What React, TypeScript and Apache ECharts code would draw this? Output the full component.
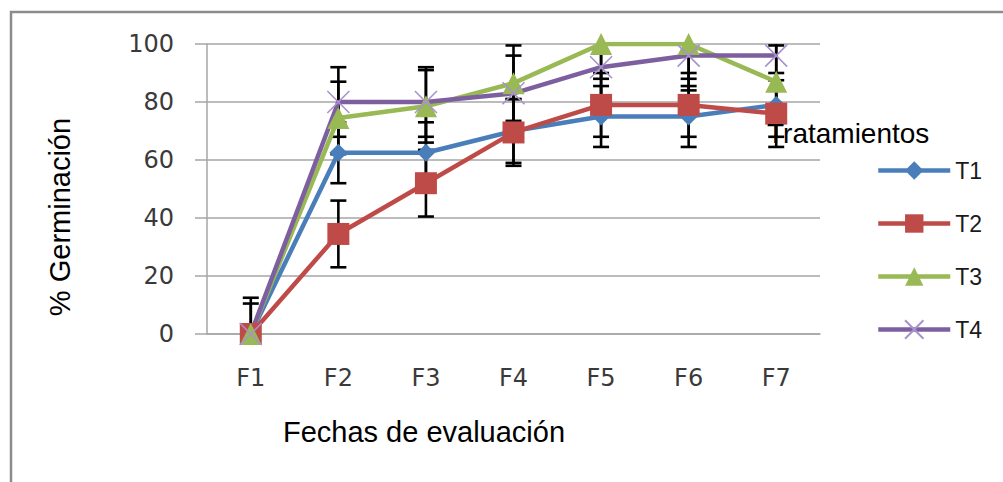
import React, { useEffect, useRef } from "react";
import * as echarts from "echarts";

const categories = ["F1", "F2", "F3", "F4", "F5", "F6", "F7"];
const seriesNames = ["T1", "T2", "T3", "T4"];
const t1 = [0, 62.5, 62.5, 70, 75, 75, 79];
const t2 = [0, 34.5, 52, 69.5, 79, 79, 76];
const t3 = [0, 74.5, 78.5, 86.5, 100, 100, 87];
const t4 = [0, 80, 80, 83, 92, 96, 96];
const errT1 = [12.5, 10.5, 10.5, 11, 10.5, 10.5, 11];
const errT2 = [0, 11.5, 11.5, 11.5, 11, 11, 11.5];
const errT3 = [10.5, 12.5, 12.5, 13, 12, 12, 12.5];
const errT4 = [0, 12, 12, 13, 12, 12, 12];
const yTicks = { min: 0, max: 100, interval: 20 };

const colors = ["#4A7EBB", "#BE4B48", "#98B954", "#7D5FA0"];
const values = [t1, t2, t3, t4];
const errors = [errT1, errT2, errT3, errT4];

const symbols = ["diamond", "rect", "triangle", "path://M0,0L10,10M10,0L0,10"];
const symbolSizes = [18, 22, 22, 22];

export default function App() {
  const ref = useRef<HTMLDivElement>(null);
  useEffect(() => {
    if (!ref.current) return;
    const chart = echarts.init(ref.current, null, { renderer: "svg" });

    const errorSeries = values.map((vals, s) => ({
      type: "custom",
      name: "err" + seriesNames[s],
      z: 1,
      clip: true,
      encode: { x: 0, y: 1 },
      data: vals.map((v, i) => [i, v, errors[s][i]]),
      renderItem: (params: any, api: any) => {
        const i = api.value(0);
        const v = api.value(1);
        const e = api.value(2);
        if (!e) return null;
        const hiV = Math.min(v + e, yTicks.max);
        const loV = Math.max(v - e, yTicks.min);
        const pHi = api.coord([i, hiV]);
        const pLo = api.coord([i, loV]);
        const cw = 8;
        const st = { stroke: "#000", lineWidth: 2.6 };
        const children: any[] = [
          { type: "line", shape: { x1: pHi[0], y1: pHi[1], x2: pLo[0], y2: pLo[1] }, style: st },
        ];
        if (v + e <= yTicks.max)
          children.push({ type: "line", shape: { x1: pHi[0] - cw, y1: pHi[1], x2: pHi[0] + cw, y2: pHi[1] }, style: st });
        if (v - e >= yTicks.min)
          children.push({ type: "line", shape: { x1: pLo[0] - cw, y1: pLo[1], x2: pLo[0] + cw, y2: pLo[1] }, style: st });
        return { type: "group", children };
      },
    }));

    const lineSeries = values.map((vals, s) => ({
      type: "line",
      name: seriesNames[s],
      z: 3,
      data: vals,
      symbol: symbols[s],
      symbolSize: symbolSizes[s],
      showAllSymbol: true,
      lineStyle: { color: colors[s], width: 4.5 },
      itemStyle:
        s === 3
          ? { color: colors[s], borderColor: "#A892CC", borderWidth: 1.6 }
          : { color: colors[s], borderColor: colors[s], borderWidth: 0 },
      emphasis: { disabled: true },
    }));

    chart.setOption({
      animation: false,
      backgroundColor: "#ffffff",
      grid: { left: 207, right: 183, top: 44, bottom: 148, containLabel: false },
      xAxis: {
        type: "category",
        data: categories,
        boundaryGap: true,
        axisLine: { show: true, lineStyle: { color: "#A6A6A6", width: 1.5 } },
        axisTick: { show: false },
        axisLabel: { margin: 32, fontSize: 24, fontFamily: "DejaVu Sans", color: "#3A3A3A" },
        splitLine: { show: false },
      },
      yAxis: {
        type: "value",
        min: yTicks.min,
        max: yTicks.max,
        interval: yTicks.interval,
        axisLine: { show: true, lineStyle: { color: "#A6A6A6", width: 1.5 } },
        axisTick: { show: true, inside: false, length: 12, lineStyle: { color: "#A6A6A6", width: 1.5 } },
        axisLabel: { margin: 33, fontSize: 24, fontFamily: "DejaVu Sans", color: "#3A3A3A" },
        splitLine: { show: true, lineStyle: { color: "#A6A6A6", width: 1.5 } },
      },
      legend: {
        data: seriesNames,
        orient: "vertical",
        left: 871,
        top: 154,
        itemWidth: 72,
        itemHeight: 23,
        itemGap: 30,
        lineStyle: { width: 4.5 },
        textStyle: { fontSize: 23, fontFamily: "Liberation Sans", color: "#1a1a1a" },
        selectedMode: false,
      },
      graphic: [
        {
          type: "rect",
          shape: { x: 11, y: 12, width: 1010, height: 500 },
          style: { fill: "none", stroke: "#8C8C8C", lineWidth: 2.5 },
          silent: true,
        },
        {
          type: "text",
          x: 60,
          y: 217,
          rotation: Math.PI / 2,
          style: {
            text: "% Germinación",
            fontSize: 29,
            fontFamily: "Liberation Sans",
            fill: "#000",
            align: "center",
            verticalAlign: "middle",
          },
        },
        {
          type: "text",
          x: 424,
          y: 432,
          style: {
            text: "Fechas de evaluación",
            fontSize: 29,
            fontFamily: "Liberation Sans",
            fill: "#000",
            align: "center",
            verticalAlign: "middle",
          },
        },
        {
          type: "text",
          x: 767,
          y: 133,
          z: 10,
          style: {
            text: "Tratamientos",
            fontSize: 28,
            fontFamily: "Liberation Sans",
            fill: "#000",
            align: "left",
            verticalAlign: "middle",
          },
        },
      ],
      series: [...errorSeries, ...lineSeries],
    });
    return () => chart.dispose();
  }, []);
  return (
    <div
      ref={ref}
      style={{ position: "absolute", left: 0, top: 0, width: 1003, height: 482, background: "#fff" }}
    />
  );
}
